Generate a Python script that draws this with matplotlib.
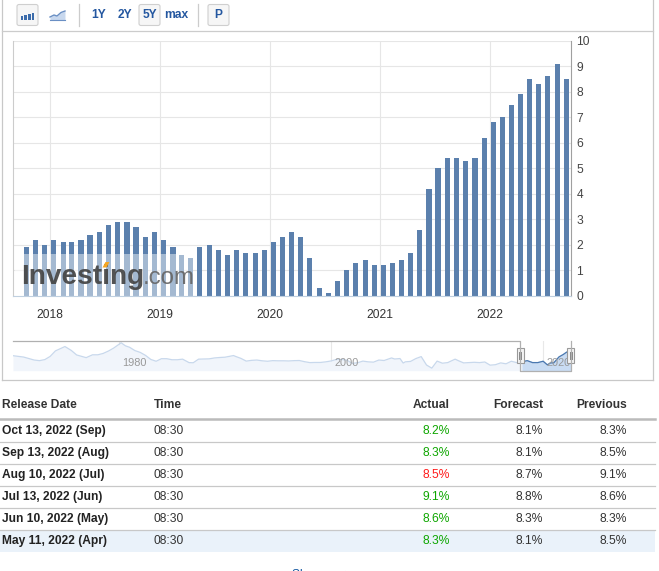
import matplotlib
matplotlib.use("Agg")
import matplotlib.pyplot as plt
import matplotlib.patches as patches
import pandas as pd

plt.rcParams['font.family'] = ['Liberation Sans', 'DejaVu Sans']

W, H = 659, 571

# monthly CPI y/y values, Aug 2017 data .. Aug 2022 data (plotted on release date)
bar_values = [1.9, 2.2, 2.0, 2.2, 2.1,
              2.1, 2.2, 2.4, 2.5, 2.8, 2.9, 2.9, 2.7, 2.3, 2.5, 2.2, 1.9,
              1.6, 1.5, 1.9, 2.0, 1.8, 1.6, 1.8, 1.7, 1.7, 1.8, 2.1, 2.3,
              2.5, 2.3, 1.5, 0.3, 0.1, 0.6, 1.0, 1.3, 1.4, 1.2, 1.2, 1.3,
              1.4, 1.7, 2.6, 4.2, 5.0, 5.4, 5.4, 5.3, 5.4, 6.2, 6.8, 7.0,
              7.5, 7.9, 8.5, 8.3, 8.6, 9.1, 8.5, 8.3]
first_release = '2017-09-13'
year_ticks = [2018, 2019, 2020, 2021, 2022]
y_ticks = list(range(0, 11))

# navigator (long history)
nav_years = [1970.0, 1971.0, 1972.0, 1972.5, 1973.0, 1973.5, 1974.0, 1974.9, 1975.5, 1976.0,
             1976.9, 1977.5, 1978.0, 1978.5, 1979.0, 1979.5, 1980.2, 1980.6, 1981.0, 1981.5,
             1982.0, 1982.5, 1983.0, 1983.5, 1984.0, 1984.5, 1985.0, 1985.5, 1986.0, 1986.6,
             1987.0, 1987.5, 1988.0, 1988.5, 1989.0, 1989.5, 1990.0, 1990.8, 1991.0, 1991.5,
             1992.0, 1992.5, 1993.0, 1993.5, 1994.0, 1994.5, 1995.0, 1995.5, 1996.0, 1996.5,
             1997.0, 1997.5, 1998.0, 1998.5, 1999.0, 1999.5, 2000.0, 2000.5, 2001.0, 2001.5,
             2002.0, 2002.5, 2003.0, 2003.5, 2004.0, 2004.5, 2005.0, 2005.7, 2006.0, 2006.5,
             2006.8, 2007.0, 2007.5, 2008.0, 2008.5, 2009.0, 2009.5, 2010.0, 2010.5, 2011.0,
             2011.7, 2012.0, 2012.5, 2013.0, 2013.5, 2014.0, 2014.5, 2015.0, 2015.5, 2016.0,
             2016.5, 2017.0, 2017.5, 2018.0, 2018.5, 2019.0, 2019.5, 2020.0, 2020.4, 2020.7,
             2021.0, 2021.5, 2021.9, 2022.2, 2022.45, 2022.6]
nav_values = [6.2, 5.3, 3.3, 2.9, 3.6, 5.7, 9.4, 12.3, 9.7, 6.7,
              4.9, 6.8, 6.8, 7.7, 9.3, 11.3, 14.8, 12.8, 11.8, 9.6,
              8.4, 6.4, 3.7, 2.5, 4.2, 4.2, 3.5, 3.5, 3.9, 1.6,
              1.5, 3.9, 4.0, 4.1, 4.7, 5.0, 5.2, 6.3, 5.7, 4.4,
              2.6, 3.1, 3.3, 2.8, 2.5, 2.9, 2.8, 2.8, 2.7, 2.9,
              3.0, 2.2, 1.6, 1.7, 1.7, 2.1, 2.7, 3.7, 3.7, 3.2,
              1.1, 1.5, 2.6, 2.1, 1.9, 3.3, 3.0, 4.7, 4.0, 4.3,
              1.3, 2.1, 2.4, 4.3, 5.6, 0.0, -2.1, 2.6, 1.2, 1.6,
              3.9, 2.9, 1.4, 1.6, 1.8, 1.6, 2.0, -0.1, 0.2, 1.4,
              0.8, 2.5, 1.6, 2.1, 2.9, 1.6, 1.6, 2.5, 0.1, 1.4,
              1.4, 5.4, 7.0, 8.5, 9.1, 8.3]
nav_ticks = [1980, 2000, 2020]

# table
headers = ['Release Date', 'Time', 'Actual', 'Forecast', 'Previous']
release_dates = ['Oct 13, 2022 (Sep)', 'Sep 13, 2022 (Aug)', 'Aug 10, 2022 (Jul)',
                 'Jul 13, 2022 (Jun)', 'Jun 10, 2022 (May)', 'May 11, 2022 (Apr)']
times = ['08:30'] * 6
actual = ['8.2%', '8.3%', '8.5%', '9.1%', '8.6%', '8.3%']
forecast = ['8.1%', '8.1%', '8.7%', '8.8%', '8.3%', '8.1%']
previous = ['8.3%', '8.5%', '9.1%', '8.6%', '8.3%', '8.5%']

BAR = '#5b80ad'
FS = 12 * 0.72  # 12px text


def fx(px):
    return px / W


def fy(py):
    return 1 - py / H


fig = plt.figure(figsize=(W / 100, H / 100), dpi=100)

# main chart
ax = fig.add_axes([fx(12.7), fy(296), (570.7 - 12.7) / W, (296 - 40.7) / H])
release = pd.date_range(first_release, periods=len(bar_values), freq='MS') + pd.Timedelta(days=12)
ax.bar(release, bar_values, width=17, color=BAR, zorder=2)
ax.set_xlim(pd.Timestamp('2017-08-29'), pd.Timestamp('2022-09-27'))
ax.set_ylim(0, 10)
ax.yaxis.tick_right()
ax.set_yticks(y_ticks)
ax.set_xticks([pd.Timestamp(f'{y}-01-01') for y in year_ticks])
ax.set_xticklabels([str(y) for y in year_ticks])
ax.grid(color='#e6e6e6', lw=0.8)
ax.set_axisbelow(True)
ax.tick_params(axis='y', length=0, pad=4, labelsize=FS, labelcolor='#444')
ax.tick_params(axis='x', length=0, pad=9.5, labelsize=FS, labelcolor='#333')
ax.spines['top'].set_visible(False)
ax.spines['left'].set_color('#cccccc')
ax.spines['right'].set_color('#a0a0a0')
ax.spines['bottom'].set_color('#c0d0e0')
for s in ax.spines.values():
    s.set_linewidth(0.8)

# navigator
nav = fig.add_axes([fx(13), fy(370.7), (570.7 - 13) / W, (370.7 - 341) / H])
nav.set_xlim(1970.0, 2022.6)
nav.set_ylim(-3.8, 16)
nav.axis('off')
for t in nav_ticks:
    nav.axvline(t, color='#e8e8e8', lw=0.8, zorder=0)
    nav.annotate(str(t), xy=(t, 0.26), xycoords=('data', 'axes fraction'),
                 xytext=(2.5, 0), textcoords='offset points', ha='left', va='center',
                 fontsize=11 * 0.72, color='#999999', zorder=4)
nav.fill_between(nav_years, nav_values, -3.8, color='#f1f5fb', lw=0, zorder=1)
nav.plot(nav_years, nav_values, color='#c8d8ec', lw=0.9, zorder=2)
sel = [i for i, y in enumerate(nav_years) if y >= 2017.7]
nav.fill_between([nav_years[i] for i in sel], [nav_values[i] for i in sel], -3.8,
                 color='#c9dcf3', lw=0, zorder=1.5)
nav.plot([nav_years[i] for i in sel], [nav_values[i] for i in sel], color='#4a78b0', lw=0.9, zorder=3)

# overlay in pixel coordinates
ov = fig.add_axes([0, 0, 1, 1])
ov.set_xlim(0, W)
ov.set_ylim(H, 0)
ov.axis('off')
ov.set_zorder(5)
ov.patch.set_alpha(0)

# container borders
ov.plot([2, 2], [0, 380], color='#c8c8c8', lw=0.9)
ov.plot([653, 653], [0, 380], color='#c8c8c8', lw=0.9)
ov.plot([2, 653], [380, 380], color='#c8c8c8', lw=0.9)
ov.plot([2, 653], [30.5, 30.5], color='#cccccc', lw=0.9)

# toolbar
for x0 in (17, 139, 208):
    ov.add_patch(patches.FancyBboxPatch((x0, 4.5), 21, 21, boxstyle='round,pad=0,rounding_size=2',
                                        fc='#f6f6f6', ec='#cfcfcf', lw=0.8))
for i, h in enumerate([4, 5, 6, 7]):
    ov.add_patch(patches.Rectangle((20.5 + i * 3.7, 19.5 - h), 2.8, h, color='#3c6cab', lw=0))
ov.fill_between([50, 54, 57, 61, 65], [17, 15, 16, 12.5, 11], 20, color='#c8d8ee', lw=0)
ov.plot([50, 54, 57, 61, 65], [17, 15, 16, 12.5, 11], color='#6a8fc4', lw=1)
ov.plot([50, 65], [20, 20], color='#6a8fc4', lw=0.8)
ov.plot([79, 79], [4, 26], color='#cccccc', lw=0.9)
ov.plot([198, 198], [4, 26], color='#cccccc', lw=0.9)
for x0, s in [(99, '1Y'), (125, '2Y'), (150, '5Y'), (176, 'max'), (218.5, 'P')]:
    ov.text(x0, 14.5, s, ha='center', va='center', fontsize=FS, fontweight='bold', color='#2457a0')

# watermark
ov.add_patch(patches.Rectangle((15, 254), 178, 42, color='white', alpha=0.45, lw=0))
ov.text(21, 283.5, 'Investing', ha='left', va='baseline', fontsize=28 * 0.72,
        fontweight='bold', color='#444444', alpha=0.92)
ov.add_patch(patches.Polygon([(102.5, 267.5), (105.5, 262), (109.5, 262), (106.5, 267.5)],
                             color='#f5a623', lw=0, zorder=4))
ov.text(143, 283.5, '.com', ha='left', va='baseline', fontsize=24 * 0.72, color='#666666', alpha=0.92)

# navigator outline and handles
ov.plot([13, 520, 520, 570.7, 570.7], [341, 341, 370.7, 370.7, 341], color='#b0b0b0', lw=0.9)
for hx in (520, 570.7):
    ov.add_patch(patches.Rectangle((hx - 3.5, 348), 7, 15, fc='#f4f4f4', ec='#999999', lw=0.8))
    ov.plot([hx - 1, hx - 1], [352, 359], color='#888888', lw=0.7)
    ov.plot([hx + 1, hx + 1], [352, 359], color='#888888', lw=0.7)

# table
col_x = [2, 154, 450, 543, 627]
col_ha = ['left', 'left', 'right', 'right', 'right']
for x0, ha, s in zip(col_x, col_ha, headers):
    ov.text(x0, 405.5, s, ha=ha, va='center', fontsize=FS, fontweight='bold', color='#333333')
ov.plot([0, 655], [419, 419], color='#bbbbbb', lw=1.8)
row_h = 22
ov.add_patch(patches.Rectangle((0, 419.5 + 5 * row_h + 0.5), 655, row_h - 0.5, color='#eaf2fa', lw=0))
for i in range(len(release_dates)):
    yc = 430.7 + i * row_h
    a, f = float(actual[i].strip('%')), float(forecast[i].strip('%'))
    acol = '#0ea600' if a >= f else '#ff1a1a'
    ov.text(col_x[0], yc, release_dates[i], ha='left', va='center', fontsize=FS,
            fontweight='bold', color='#222222')
    ov.text(col_x[1], yc, times[i], ha='left', va='center', fontsize=FS, color='#333333')
    ov.text(col_x[2], yc, actual[i], ha='right', va='center', fontsize=FS, color=acol)
    ov.text(col_x[3], yc, forecast[i], ha='right', va='center', fontsize=FS, color='#333333')
    ov.text(col_x[4], yc, previous[i], ha='right', va='center', fontsize=FS, color='#333333')
    if i < len(release_dates) - 1:
        ov.plot([0, 655], [yc + 11, yc + 11], color='#c8c8c8', lw=0.9)
ov.text(292, 569, 'Show more', ha='left', va='top', fontsize=FS, color='#1256a0')

fig.savefig('out.png', dpi=100)
